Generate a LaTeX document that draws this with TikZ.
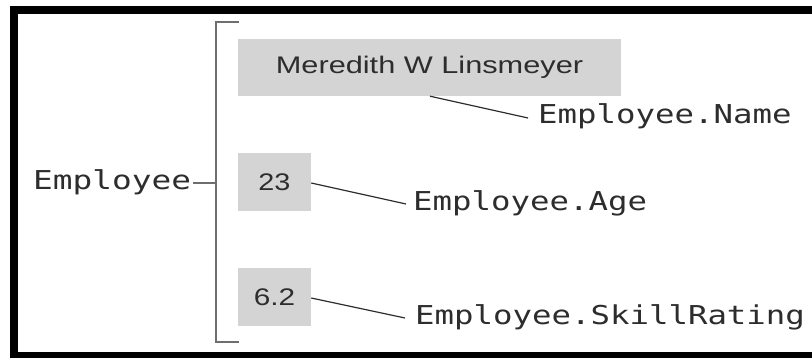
\documentclass[tikz,border=0pt]{standalone}
\usepackage{fontspec}
\usepackage{graphicx}
\newfontfamily\monofnt{DejaVu Sans Mono}
\newfontfamily\sansfnt{Liberation Sans}
\definecolor{boxgray}{RGB}{212,212,212}
\definecolor{inkgray}{RGB}{45,45,45}
\definecolor{brkgray}{RGB}{110,110,110}
\begin{document}
\begin{tikzpicture}[x=1pt,y=-1pt,
  valbox/.style={fill=boxgray,draw=none,inner sep=0pt,text=inkgray,
    font=\sansfnt\fontsize{24}{24}\selectfont},
  fieldlbl/.style={anchor=base west,inner sep=0pt,text=inkgray,
    font=\monofnt\fontsize{26}{26}\selectfont},
  conn/.style={draw=inkgray,line width=1.2pt},
  brk/.style={draw=brkgray,line width=1.3pt}]
\useasboundingbox (0,0) rectangle (812,358);
\clip (0,0) rectangle (812,358);
% frame
\draw[line width=8pt,black] (14,10) rectangle (840,356);
% bracket
\coordinate (bt) at (239,22);
\coordinate (bb) at (239,342);
\draw[brk] (bt) -- (216,22) -- (216,342) -- (bb);
\coordinate (bm) at (216,183);
% Employee
\node[fieldlbl] (emp) at (33,190) {\scalebox{1.26}[1]{Employee}};
\coordinate (empend) at (193,183);
\draw[brk,line width=1.2pt] (empend) -- (bm);
% boxes
\node[valbox,minimum width=383pt,minimum height=57pt] (name) at (429.5,67.5) {\scalebox{1.28}[1]{Meredith W Linsmeyer}};
\node[valbox,minimum width=73pt,minimum height=58pt] (age) at (274.5,182) {\scalebox{1.2}[1]{23}};
\node[valbox,minimum width=73pt,minimum height=58pt] (skill) at (274.5,297) {\scalebox{1.24}[1]{6.2}};
% labels
\node[fieldlbl] (lname) at (538,124) {\scalebox{1.245}[1]{Employee.Name}};
\node[fieldlbl] (lage) at (413,211) {\scalebox{1.245}[1]{Employee.Age}};
\node[fieldlbl] (lskill) at (415,325) {\scalebox{1.245}[1]{Employee.SkillRating}};
% connectors
\coordinate (cn) at (528,118);
\coordinate (ca) at (406,204);
\coordinate (cs) at (405,318);
\draw[conn] (name.south) ++(0.5,0) -- (cn);
\draw[conn] (age.east) ++(0,1) -- (ca);
\draw[conn] (skill.east) ++(0,1) -- (cs);
\end{tikzpicture}
\end{document}
